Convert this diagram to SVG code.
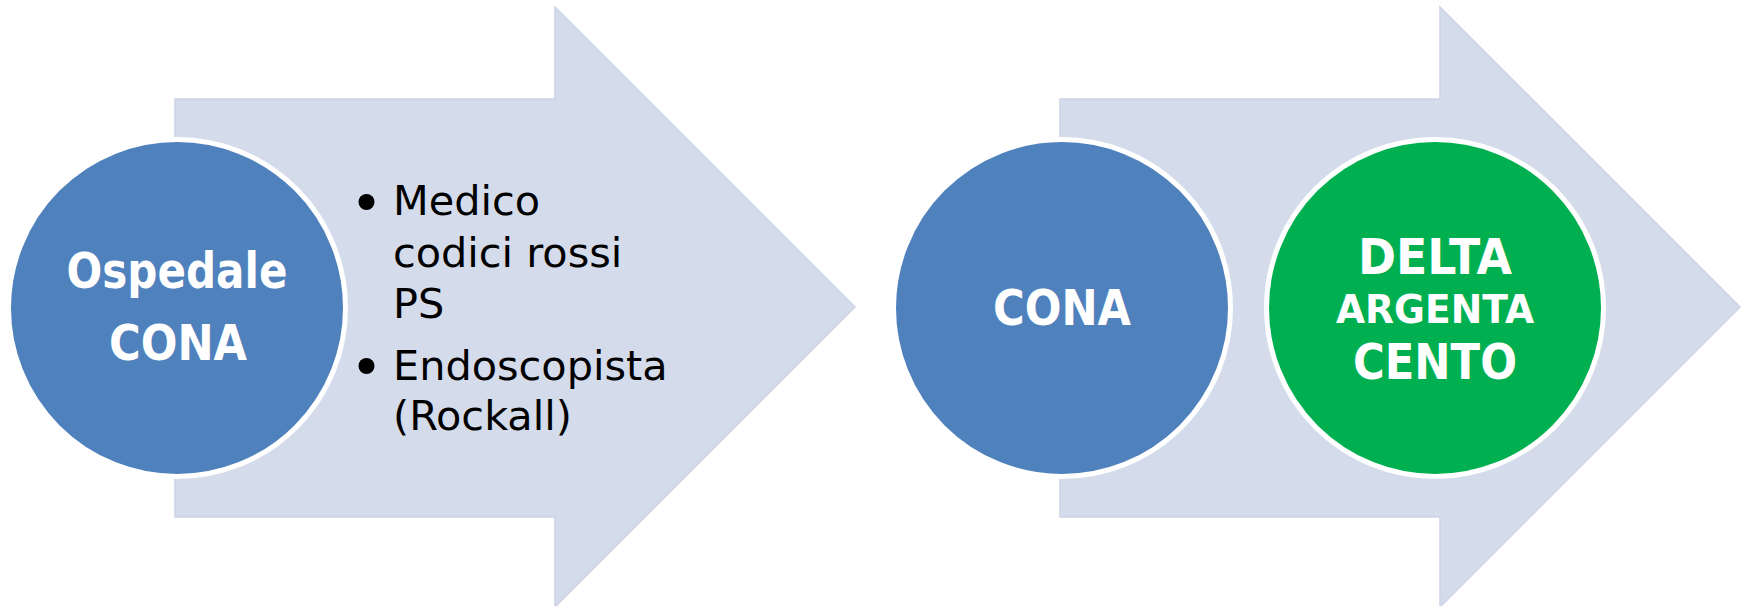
<svg xmlns="http://www.w3.org/2000/svg" width="1748" height="606" viewBox="0 0 1748 606">
  <style>
    .arrow { fill: #D4DBEA; stroke: #CCD4E5; stroke-width: 1.5; }
    .blue { fill: #4F81BD; stroke: #FFFFFF; stroke-width: 5; }
    .green { fill: #00B050; stroke: #FFFFFF; stroke-width: 5; }
    .big { font-family: "DejaVu Sans", Verdana, sans-serif; font-weight: bold; font-size: 49px; fill: #FFFFFF; text-anchor: middle; }
    .mid { font-family: "DejaVu Sans", Verdana, sans-serif; font-weight: bold; font-size: 39px; fill: #FFFFFF; text-anchor: middle; }
    .body { font-family: "DejaVu Sans", Verdana, sans-serif; font-size: 41.4px; fill: #000000; }
    .dot { fill: #000000; }
  </style>
  <rect width="1748" height="606" fill="#FFFFFF"/>
  <g id="connectors">
    <polygon id="arrow-left" class="arrow" points="175,99 555,99 555,7 855,307 555,607 555,517 175,517"/>
    <polygon id="arrow-right" class="arrow" points="1060,99 1440,99 1440,7 1740,307 1440,607 1440,517 1060,517"/>
  </g>
  <g id="node-ospedale-cona">
    <circle class="blue" cx="177" cy="308" r="168.5"/>
    <text class="big" x="177" y="288" textLength="221" lengthAdjust="spacingAndGlyphs">Ospedale</text>
    <text class="big" x="178" y="360" textLength="138" lengthAdjust="spacingAndGlyphs">CONA</text>
  </g>
  <g id="node-bullets">
    <circle class="dot" cx="366.5" cy="202" r="8"/>
    <text class="body" x="393" y="215">Medico</text>
    <text class="body" x="393" y="267">codici rossi</text>
    <text class="body" x="393" y="318">PS</text>
    <circle class="dot" cx="366.5" cy="366" r="8"/>
    <text class="body" x="393" y="380">Endoscopista</text>
    <text class="body" x="393" y="430">(Rockall)</text>
  </g>
  <g id="node-cona">
    <circle class="blue" cx="1062" cy="308" r="168.5"/>
    <text class="big" x="1062" y="324.5" textLength="138" lengthAdjust="spacingAndGlyphs">CONA</text>
  </g>
  <g id="node-delta-argenta-cento">
    <circle class="green" cx="1435" cy="308" r="168.5"/>
    <text class="big" x="1435" y="273.5" textLength="154" lengthAdjust="spacingAndGlyphs">DELTA</text>
    <text class="mid" x="1435" y="323" textLength="198" lengthAdjust="spacingAndGlyphs">ARGENTA</text>
    <text class="big" x="1435" y="379" textLength="164" lengthAdjust="spacingAndGlyphs">CENTO</text>
  </g>
</svg>
